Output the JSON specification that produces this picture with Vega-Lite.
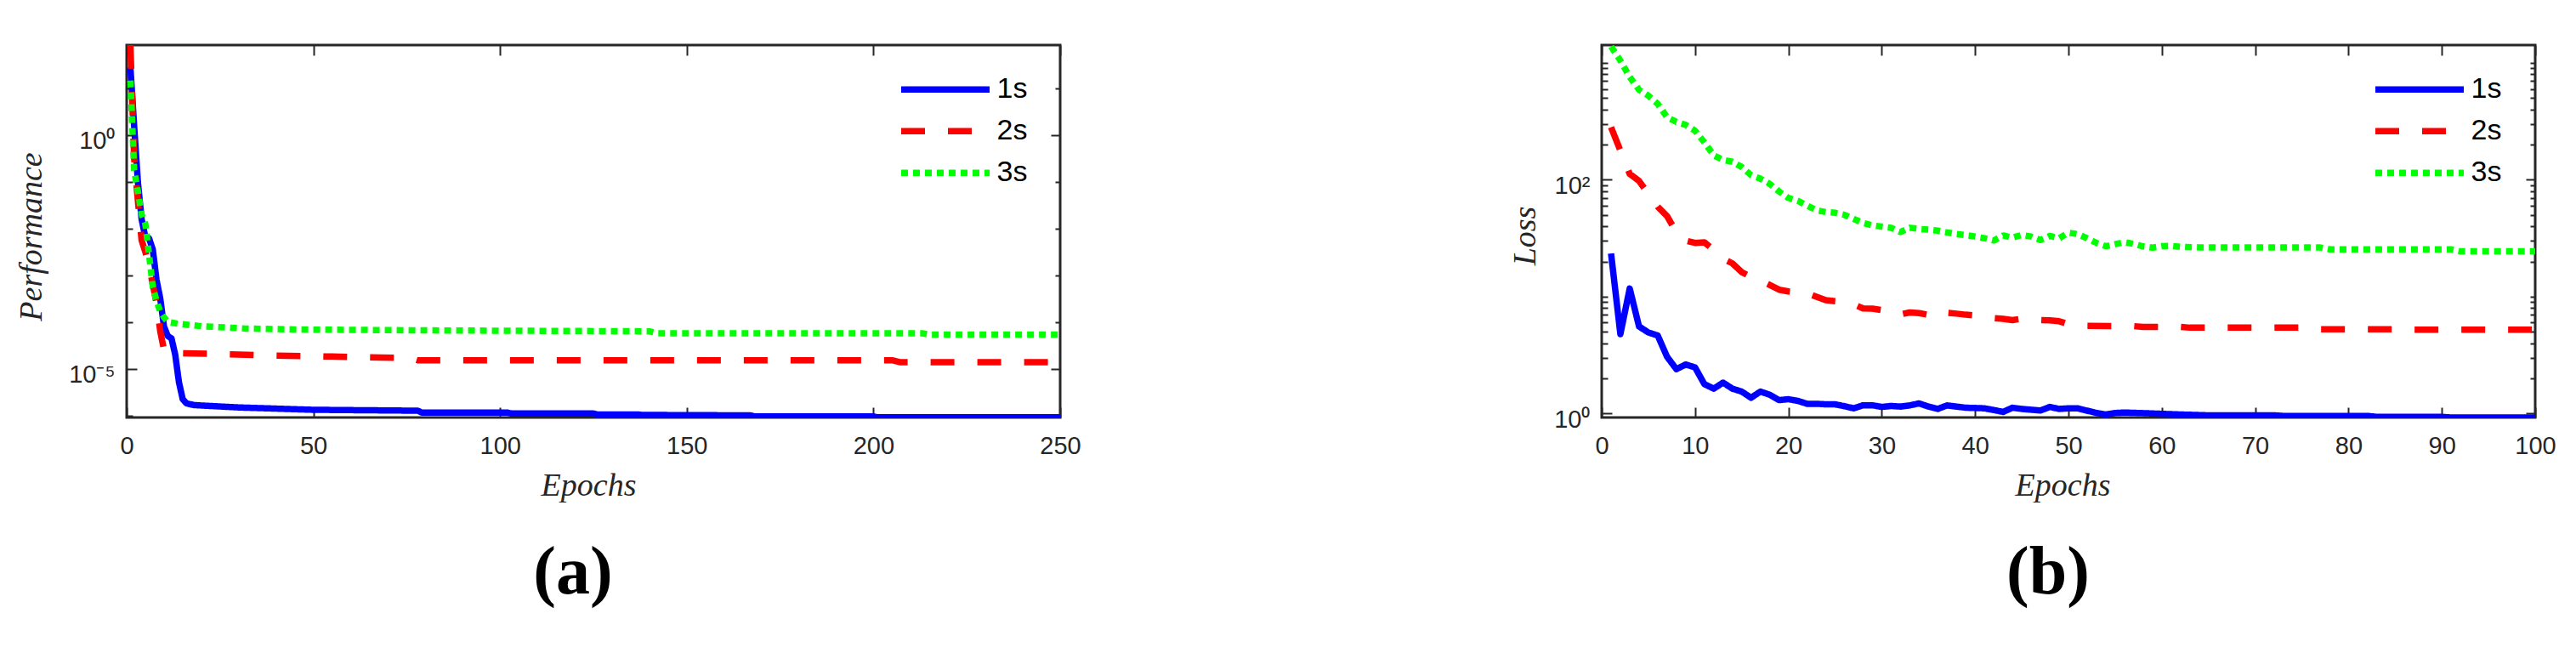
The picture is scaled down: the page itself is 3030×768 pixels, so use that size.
{
"$schema":"https://vega.github.io/schema/vega-lite/v6.json",
"background":"white",
"padding":{"left":17,"top":48,"right":5,"bottom":5},
"bounds":"flush",
"spacing":637,
"resolve":{"scale":{"color":"independent","strokeDash":"independent"},"legend":{"color":"independent","strokeDash":"independent"}},
"datasets":{
"perf":[
{"series":"1s","epoch":1,"value":28.18},{"series":"1s","epoch":2,"value":1.585},{"series":"1s","epoch":3,"value":0.1},{"series":"1s","epoch":4,"value":0.01585},{"series":"1s","epoch":5,"value":6.607e-3},{"series":"1s","epoch":6,"value":6.166e-3},{"series":"1s","epoch":7,"value":3.548e-3},{"series":"1s","epoch":8,"value":7.943e-4},{"series":"1s","epoch":9,"value":3.162e-4},{"series":"1s","epoch":10,"value":7.943e-5},{"series":"1s","epoch":11,"value":5.012e-5},{"series":"1s","epoch":12,"value":4.467e-5},{"series":"1s","epoch":13,"value":1.995e-5},{"series":"1s","epoch":14,"value":5.129e-6},{"series":"1s","epoch":15,"value":2.239e-6},{"series":"1s","epoch":16,"value":1.82e-6},{"series":"1s","epoch":18,"value":1.66e-6},{"series":"1s","epoch":30,"value":1.479e-6},{"series":"1s","epoch":50,"value":1.318e-6},{"series":"1s","epoch":78,"value":1.259e-6},{"series":"1s","epoch":79,"value":1.148e-6},{"series":"1s","epoch":102,"value":1.148e-6},{"series":"1s","epoch":103,"value":1.096e-6},{"series":"1s","epoch":125,"value":1.096e-6},{"series":"1s","epoch":126,"value":1.047e-6},{"series":"1s","epoch":137,"value":1.047e-6},{"series":"1s","epoch":138,"value":1.023e-6},{"series":"1s","epoch":167,"value":1.0e-6},{"series":"1s","epoch":168,"value":9.55e-7},{"series":"1s","epoch":200,"value":9.55e-7},{"series":"1s","epoch":201,"value":9.12e-7},{"series":"1s","epoch":250,"value":9.12e-7},
{"series":"2s","epoch":1,"value":85.1},{"series":"2s","epoch":2,"value":0.3162},{"series":"2s","epoch":3,"value":0.03981},{"series":"2s","epoch":4,"value":5.623e-3},{"series":"2s","epoch":5,"value":3.162e-3},{"series":"2s","epoch":6,"value":1.585e-3},{"series":"2s","epoch":7,"value":6.31e-4},{"series":"2s","epoch":8,"value":2.512e-4},{"series":"2s","epoch":9,"value":6.31e-5},{"series":"2s","epoch":10,"value":2.512e-5},{"series":"2s","epoch":11,"value":2.291e-5},{"series":"2s","epoch":15,"value":2.138e-5},{"series":"2s","epoch":22,"value":2.089e-5},{"series":"2s","epoch":40,"value":1.905e-5},{"series":"2s","epoch":55,"value":1.82e-5},{"series":"2s","epoch":68,"value":1.738e-5},{"series":"2s","epoch":76,"value":1.698e-5},{"series":"2s","epoch":78,"value":1.514e-5},{"series":"2s","epoch":205,"value":1.514e-5},{"series":"2s","epoch":207,"value":1.38e-5},{"series":"2s","epoch":250,"value":1.38e-5},
{"series":"3s","epoch":1,"value":14.79},{"series":"3s","epoch":2,"value":0.1778},{"series":"3s","epoch":3,"value":0.0631},{"series":"3s","epoch":4,"value":0.01995},{"series":"3s","epoch":5,"value":0.01259},{"series":"3s","epoch":6,"value":2.754e-3},{"series":"3s","epoch":7,"value":5.623e-4},{"series":"3s","epoch":8,"value":2.818e-4},{"series":"3s","epoch":9,"value":1.66e-4},{"series":"3s","epoch":10,"value":1.259e-4},{"series":"3s","epoch":11,"value":1.0e-4},{"series":"3s","epoch":14,"value":9.12e-5},{"series":"3s","epoch":20,"value":8.128e-5},{"series":"3s","epoch":32,"value":7.244e-5},{"series":"3s","epoch":45,"value":6.918e-5},{"series":"3s","epoch":80,"value":6.607e-5},{"series":"3s","epoch":140,"value":6.31e-5},{"series":"3s","epoch":142,"value":5.754e-5},{"series":"3s","epoch":213,"value":5.754e-5},{"series":"3s","epoch":215,"value":5.37e-5},{"series":"3s","epoch":250,"value":5.37e-5}
],
"loss":[
{"series":"1s","epoch":1,"value":23.44},{"series":"1s","epoch":2,"value":4.786},{"series":"1s","epoch":3,"value":11.75},{"series":"1s","epoch":4,"value":5.559},{"series":"1s","epoch":5,"value":4.943},{"series":"1s","epoch":6,"value":4.656},{"series":"1s","epoch":7,"value":3.062},{"series":"1s","epoch":8,"value":2.399},{"series":"1s","epoch":9,"value":2.63},{"series":"1s","epoch":10,"value":2.483},{"series":"1s","epoch":11,"value":1.786},{"series":"1s","epoch":12,"value":1.633},{"series":"1s","epoch":13,"value":1.841},{"series":"1s","epoch":14,"value":1.633},{"series":"1s","epoch":15,"value":1.542},{"series":"1s","epoch":16,"value":1.365},{"series":"1s","epoch":17,"value":1.542},{"series":"1s","epoch":18,"value":1.449},{"series":"1s","epoch":19,"value":1.303},{"series":"1s","epoch":20,"value":1.327},{"series":"1s","epoch":21,"value":1.285},{"series":"1s","epoch":22,"value":1.213},{"series":"1s","epoch":23,"value":1.213},{"series":"1s","epoch":24,"value":1.2},{"series":"1s","epoch":25,"value":1.2},{"series":"1s","epoch":26,"value":1.156},{"series":"1s","epoch":27,"value":1.109},{"series":"1s","epoch":28,"value":1.178},{"series":"1s","epoch":29,"value":1.178},{"series":"1s","epoch":30,"value":1.14},{"series":"1s","epoch":31,"value":1.161},{"series":"1s","epoch":32,"value":1.148},{"series":"1s","epoch":33,"value":1.175},{"series":"1s","epoch":34,"value":1.222},{"series":"1s","epoch":35,"value":1.148},{"series":"1s","epoch":36,"value":1.096},{"series":"1s","epoch":37,"value":1.175},{"series":"1s","epoch":38,"value":1.148},{"series":"1s","epoch":39,"value":1.122},{"series":"1s","epoch":40,"value":1.117},{"series":"1s","epoch":41,"value":1.109},{"series":"1s","epoch":42,"value":1.072},{"series":"1s","epoch":43,"value":1.033},{"series":"1s","epoch":44,"value":1.122},{"series":"1s","epoch":45,"value":1.096},{"series":"1s","epoch":46,"value":1.079},{"series":"1s","epoch":47,"value":1.062},{"series":"1s","epoch":48,"value":1.14},{"series":"1s","epoch":49,"value":1.096},{"series":"1s","epoch":50,"value":1.109},{"series":"1s","epoch":51,"value":1.109},{"series":"1s","epoch":52,"value":1.059},{"series":"1s","epoch":53,"value":1.012},{"series":"1s","epoch":54,"value":0.982},{"series":"1s","epoch":55,"value":1.012},{"series":"1s","epoch":56,"value":1.021},{"series":"1s","epoch":58,"value":1.009},{"series":"1s","epoch":62,"value":0.982},{"series":"1s","epoch":65,"value":0.966},{"series":"1s","epoch":72,"value":0.966},{"series":"1s","epoch":73,"value":0.955},{"series":"1s","epoch":82,"value":0.955},{"series":"1s","epoch":83,"value":0.938},{"series":"1s","epoch":90,"value":0.938},{"series":"1s","epoch":91,"value":0.925},{"series":"1s","epoch":100,"value":0.925},
{"series":"2s","epoch":1,"value":281.8},{"series":"2s","epoch":2,"value":177.8},{"series":"2s","epoch":3,"value":112.2},{"series":"2s","epoch":4,"value":97.7},{"series":"2s","epoch":5,"value":75.86},{"series":"2s","epoch":6,"value":58.88},{"series":"2s","epoch":7,"value":48.98},{"series":"2s","epoch":8,"value":35.48},{"series":"2s","epoch":9,"value":30.2},{"series":"2s","epoch":10,"value":28.84},{"series":"2s","epoch":11,"value":29.17},{"series":"2s","epoch":12,"value":25.12},{"series":"2s","epoch":13,"value":21.13},{"series":"2s","epoch":14,"value":19.28},{"series":"2s","epoch":15,"value":16.22},{"series":"2s","epoch":16,"value":14.79},{"series":"2s","epoch":17,"value":13.8},{"series":"2s","epoch":18,"value":12.59},{"series":"2s","epoch":19,"value":11.48},{"series":"2s","epoch":20,"value":11.09},{"series":"2s","epoch":21,"value":10.84},{"series":"2s","epoch":22,"value":10.72},{"series":"2s","epoch":23,"value":10.0},{"series":"2s","epoch":24,"value":9.333},{"series":"2s","epoch":25,"value":9.162},{"series":"2s","epoch":26,"value":9.036},{"series":"2s","epoch":27,"value":8.61},{"series":"2s","epoch":28,"value":7.943},{"series":"2s","epoch":29,"value":7.907},{"series":"2s","epoch":30,"value":7.674},{"series":"2s","epoch":31,"value":7.499},{"series":"2s","epoch":32,"value":7.047},{"series":"2s","epoch":33,"value":7.328},{"series":"2s","epoch":34,"value":7.244},{"series":"2s","epoch":35,"value":6.998},{"series":"2s","epoch":36,"value":6.73},{"series":"2s","epoch":37,"value":7.278},{"series":"2s","epoch":38,"value":7.161},{"series":"2s","epoch":39,"value":7.015},{"series":"2s","epoch":40,"value":6.918},{"series":"2s","epoch":41,"value":6.761},{"series":"2s","epoch":42,"value":6.546},{"series":"2s","epoch":43,"value":6.457},{"series":"2s","epoch":44,"value":6.31},{"series":"2s","epoch":45,"value":6.486},{"series":"2s","epoch":46,"value":6.457},{"series":"2s","epoch":47,"value":6.31},{"series":"2s","epoch":48,"value":6.266},{"series":"2s","epoch":49,"value":6.166},{"series":"2s","epoch":50,"value":5.821},{"series":"2s","epoch":51,"value":5.675},{"series":"2s","epoch":52,"value":5.623},{"series":"2s","epoch":57,"value":5.598},{"series":"2s","epoch":58,"value":5.508},{"series":"2s","epoch":62,"value":5.508},{"series":"2s","epoch":63,"value":5.433},{"series":"2s","epoch":75,"value":5.433},{"series":"2s","epoch":76,"value":5.272},{"series":"2s","epoch":86,"value":5.272},{"series":"2s","epoch":87,"value":5.212},{"series":"2s","epoch":100,"value":5.212},
{"series":"3s","epoch":1,"value":1380},{"series":"3s","epoch":2,"value":1047},{"series":"3s","epoch":3,"value":758.6},{"series":"3s","epoch":4,"value":588.8},{"series":"3s","epoch":5,"value":524.8},{"series":"3s","epoch":6,"value":446.7},{"series":"3s","epoch":7,"value":342.8},{"series":"3s","epoch":8,"value":312.6},{"series":"3s","epoch":9,"value":295.1},{"series":"3s","epoch":10,"value":263.0},{"series":"3s","epoch":11,"value":208.9},{"series":"3s","epoch":12,"value":162.2},{"series":"3s","epoch":13,"value":147.9},{"series":"3s","epoch":14,"value":142.9},{"series":"3s","epoch":15,"value":128.8},{"series":"3s","epoch":16,"value":109.6},{"series":"3s","epoch":17,"value":102.3},{"series":"3s","epoch":18,"value":92.26},{"series":"3s","epoch":19,"value":79.43},{"series":"3s","epoch":20,"value":69.98},{"series":"3s","epoch":21,"value":66.07},{"series":"3s","epoch":22,"value":60.26},{"series":"3s","epoch":23,"value":54.95},{"series":"3s","epoch":24,"value":52.97},{"series":"3s","epoch":25,"value":52.24},{"series":"3s","epoch":26,"value":50.12},{"series":"3s","epoch":27,"value":46.24},{"series":"3s","epoch":28,"value":42.66},{"series":"3s","epoch":29,"value":40.74},{"series":"3s","epoch":30,"value":39.81},{"series":"3s","epoch":31,"value":38.9},{"series":"3s","epoch":32,"value":35.73},{"series":"3s","epoch":33,"value":38.9},{"series":"3s","epoch":34,"value":38.02},{"series":"3s","epoch":35,"value":37.5},{"series":"3s","epoch":36,"value":36.73},{"series":"3s","epoch":37,"value":35.48},{"series":"3s","epoch":38,"value":34.36},{"series":"3s","epoch":39,"value":33.65},{"series":"3s","epoch":40,"value":32.73},{"series":"3s","epoch":41,"value":31.62},{"series":"3s","epoch":42,"value":30.2},{"series":"3s","epoch":43,"value":33.42},{"series":"3s","epoch":44,"value":31.99},{"series":"3s","epoch":45,"value":33.73},{"series":"3s","epoch":46,"value":32.73},{"series":"3s","epoch":47,"value":30.55},{"series":"3s","epoch":48,"value":33.11},{"series":"3s","epoch":49,"value":31.62},{"series":"3s","epoch":50,"value":35.32},{"series":"3s","epoch":51,"value":34.28},{"series":"3s","epoch":52,"value":31.62},{"series":"3s","epoch":53,"value":28.84},{"series":"3s","epoch":54,"value":27.04},{"series":"3s","epoch":55,"value":28.18},{"series":"3s","epoch":56,"value":29.24},{"series":"3s","epoch":57,"value":28.31},{"series":"3s","epoch":58,"value":26.92},{"series":"3s","epoch":59,"value":26.3},{"series":"3s","epoch":60,"value":27.04},{"series":"3s","epoch":61,"value":27.23},{"series":"3s","epoch":62,"value":26.73},{"series":"3s","epoch":64,"value":26.42},{"series":"3s","epoch":77,"value":26.36},{"series":"3s","epoch":78,"value":25.41},{"series":"3s","epoch":91,"value":25.41},{"series":"3s","epoch":92,"value":24.43},{"series":"3s","epoch":100,"value":24.43}
]
},
"hconcat":[
{
"width":1098,"height":438,
"data":{"name":"perf"},
"title":{"text":"(a)","orient":"bottom","anchor":"middle","dx":-24,"offset":107,"baseline":"alphabetic","font":"Liberation Serif","fontSize":80,"fontWeight":"bold","color":"#000000"},
"layer":[
{"mark":{"type":"line","strokeWidth":7.5,"clip":true,"strokeJoin":"round"},
"encoding":{
"x":{"field":"epoch","type":"quantitative","scale":{"domain":[0,250],"nice":false,"zero":false},"axis":{"orient":"bottom","values":[0,50,100,150,200,250],"tickSize":-12,"labelPadding":31.5,"title":"Epochs","titleX":543,"titleY":91.8,"titleBaseline":"alphabetic"}},
"y":{"field":"value","type":"quantitative","scale":{"type":"log","domain":[9.02e-7,85.1],"nice":false},"axis":{"orient":"left","values":[1e-5,1],"tickSize":-12,"labelPadding":26,"labelOffset":7,"labelExpr":"datum.value > 0.5 ? '10⁰' : '10⁻⁵'","title":"Performance","titleX":-100.3,"titleY":225,"titleBaseline":"alphabetic","titleAngle":-90}},
"color":{"field":"series","type":"nominal","scale":{"domain":["1s","2s","3s"],"range":["#0000ff","#ff0000","#00ff00"]},"legend":{"orient":"none","legendX":907,"legendY":28,"title":null,"symbolType":"stroke","symbolSize":10816,"symbolStrokeWidth":7.5,"labelFontSize":34,"labelFont":"Liberation Sans","labelColor":"#000000","labelOffset":4.5,"clipHeight":48.4,"rowPadding":0,"padding":0}},
"strokeDash":{"field":"series","type":"nominal","scale":{"domain":["1s","2s","3s"],"range":[[1,0],[28,27],[8,6]]},"legend":{"orient":"none","legendX":907,"legendY":28,"title":null,"symbolType":"stroke","symbolSize":10816,"symbolStrokeWidth":7.5,"labelFontSize":34,"labelFont":"Liberation Sans","labelColor":"#000000","labelOffset":4.5,"clipHeight":48.4,"rowPadding":0,"padding":0}}
}},
{"mark":{"type":"point","opacity":0},
"encoding":{
"x":{"field":"epoch","type":"quantitative","scale":{"domain":[0,250],"nice":false,"zero":false},"axis":{"orient":"top","values":[0,50,100,150,200,250],"tickSize":-12,"labels":false,"title":null}},
"y":{"field":"value","type":"quantitative","scale":{"type":"log","domain":[9.02e-7,85.1],"nice":false},"axis":{"orient":"right","values":[1e-5,1],"tickSize":-11,"labels":false,"title":null}}
}},
{"mark":{"type":"point","opacity":0},
"encoding":{
"x":{"field":"epoch","type":"quantitative","scale":{"domain":[0,250],"nice":false,"zero":false},"axis":null},
"y":{"field":"value","type":"quantitative","scale":{"type":"log","domain":[9.02e-7,85.1],"nice":false},"axis":{"orient":"left","values":[1e-6,1e-4,1e-3,1e-2,1e-1,10],"tickSize":-7,"labels":false,"title":null}}
}},
{"mark":{"type":"point","opacity":0},
"encoding":{
"x":{"field":"epoch","type":"quantitative","scale":{"domain":[0,250],"nice":false,"zero":false},"axis":null},
"y":{"field":"value","type":"quantitative","scale":{"type":"log","domain":[9.02e-7,85.1],"nice":false},"axis":{"orient":"right","values":[1e-6,1e-4,1e-3,1e-2,1e-1,10],"tickSize":-6,"labels":false,"title":null}}
}}
],
"resolve":{"axis":{"x":"independent","y":"independent"}}
},
{
"width":1098,"height":438,
"data":{"name":"loss"},
"title":{"text":"(b)","orient":"bottom","anchor":"middle","dx":-24,"offset":107,"baseline":"alphabetic","font":"Liberation Serif","fontSize":80,"fontWeight":"bold","color":"#000000"},
"layer":[
{"mark":{"type":"line","strokeWidth":7.5,"clip":true,"strokeJoin":"round"},
"encoding":{
"x":{"field":"epoch","type":"quantitative","scale":{"domain":[0,100],"nice":false,"zero":false},"axis":{"orient":"bottom","values":[0,10,20,30,40,50,60,70,80,90,100],"tickSize":-12,"labelPadding":31.5,"title":"Epochs","titleX":542,"titleY":91.8,"titleBaseline":"alphabetic"}},
"y":{"field":"value","type":"quantitative","scale":{"type":"log","domain":[0.926,1422],"nice":false},"axis":{"orient":"left","values":[1,100],"tickSize":-12,"labelPadding":26,"labelOffset":7,"labelExpr":"datum.value > 50 ? '10²' : '10⁰'","title":"Loss","titleX":-78.7,"titleY":224,"titleBaseline":"alphabetic","titleAngle":-90}},
"color":{"field":"series","type":"nominal","scale":{"domain":["1s","2s","3s"],"range":["#0000ff","#ff0000","#00ff00"]},"legend":{"orient":"none","legendX":906,"legendY":28,"title":null,"symbolType":"stroke","symbolSize":10816,"symbolStrokeWidth":7.5,"labelFontSize":34,"labelFont":"Liberation Sans","labelColor":"#000000","labelOffset":4.5,"clipHeight":48.4,"rowPadding":0,"padding":0}},
"strokeDash":{"field":"series","type":"nominal","scale":{"domain":["1s","2s","3s"],"range":[[1,0],[28,27],[8,6]]},"legend":{"orient":"none","legendX":906,"legendY":28,"title":null,"symbolType":"stroke","symbolSize":10816,"symbolStrokeWidth":7.5,"labelFontSize":34,"labelFont":"Liberation Sans","labelColor":"#000000","labelOffset":4.5,"clipHeight":48.4,"rowPadding":0,"padding":0}}
}},
{"mark":{"type":"point","opacity":0},
"encoding":{
"x":{"field":"epoch","type":"quantitative","scale":{"domain":[0,100],"nice":false,"zero":false},"axis":{"orient":"top","values":[0,10,20,30,40,50,60,70,80,90,100],"tickSize":-12,"labels":false,"title":null}},
"y":{"field":"value","type":"quantitative","scale":{"type":"log","domain":[0.926,1422],"nice":false},"axis":{"orient":"right","values":[1,100],"tickSize":-11,"labels":false,"title":null}}
}},
{"mark":{"type":"point","opacity":0},
"encoding":{
"x":{"field":"epoch","type":"quantitative","scale":{"domain":[0,100],"nice":false,"zero":false},"axis":null},
"y":{"field":"value","type":"quantitative","scale":{"type":"log","domain":[0.926,1422],"nice":false},"axis":{"orient":"left","values":[2,3,4,5,6,7,8,9,10,20,30,40,50,60,70,80,90,200,300,400,500,600,700,800,900,1000],"tickSize":-7,"labels":false,"title":null}}
}},
{"mark":{"type":"point","opacity":0},
"encoding":{
"x":{"field":"epoch","type":"quantitative","scale":{"domain":[0,100],"nice":false,"zero":false},"axis":null},
"y":{"field":"value","type":"quantitative","scale":{"type":"log","domain":[0.926,1422],"nice":false},"axis":{"orient":"right","values":[2,3,4,5,6,7,8,9,10,20,30,40,50,60,70,80,90,200,300,400,500,600,700,800,900,1000],"tickSize":-6,"labels":false,"title":null}}
}}
],
"resolve":{"axis":{"x":"independent","y":"independent"}}
}
],
"config":{
"view":{"stroke":"#262626","strokeWidth":3},
"axis":{"domain":false,"grid":false,"tickColor":"#262626","tickWidth":2,"labelColor":"#262626","labelFont":"Liberation Sans","labelFontSize":29,"labelFlush":false,"labelOverlap":false,"titleFont":"Liberation Serif","titleFontStyle":"italic","titleFontWeight":"normal","titleFontSize":38,"titleColor":"#262626"},
"font":"Liberation Sans"
}
}
